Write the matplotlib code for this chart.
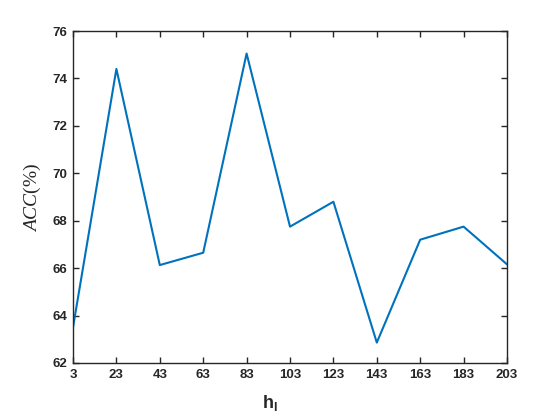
import matplotlib
matplotlib.use("Agg")
import matplotlib.pyplot as plt

h_l = [3, 23, 43, 63, 83, 103, 123, 143, 163, 183, 203]
acc = [63.5, 74.4, 66.13, 66.65, 75.05, 67.75, 68.8, 62.86, 67.2, 67.75, 66.16]
xticks = [3, 23, 43, 63, 83, 103, 123, 143, 163, 183, 203]
yticks = [62, 64, 66, 68, 70, 72, 74, 76]

plt.rcParams['mathtext.fontset'] = 'custom'
plt.rcParams['mathtext.rm'] = 'Liberation Serif'
plt.rcParams['mathtext.it'] = 'Liberation Serif:italic'
plt.rcParams['mathtext.bf'] = 'Liberation Sans:bold'

fig = plt.figure(figsize=(5.6, 4.2), dpi=100)
ax = fig.add_axes([73/560, 57/420, 434/560, 332/420])
ax.plot(h_l, acc, color='#0072BD', linewidth=1.5)
ax.set_xlim(3, 203)
ax.set_ylim(62, 76)
ax.set_xticks(xticks)
ax.set_yticks(yticks)
axc = '#262626'
for s in ax.spines.values():
    s.set_color(axc)
    s.set_linewidth(1.0)
ax.tick_params(direction='in', length=4, width=1.0, color=axc, top=True, right=True,
               labelsize=9.5, labelcolor=axc, pad=4)
for lab in ax.get_xticklabels() + ax.get_yticklabels():
    lab.set_fontfamily('Liberation Sans')
    lab.set_fontweight('bold')
ax.set_xlabel(r'$\mathbf{h_l}$', fontsize=13, color=axc)
ax.xaxis.set_label_coords(0.454, -0.09)
ax.set_ylabel(r'$ACC(\%)$', fontsize=14, color=axc)
ax.yaxis.set_label_coords(-0.068, 0.5)
fig.savefig('out.png', dpi=100)
